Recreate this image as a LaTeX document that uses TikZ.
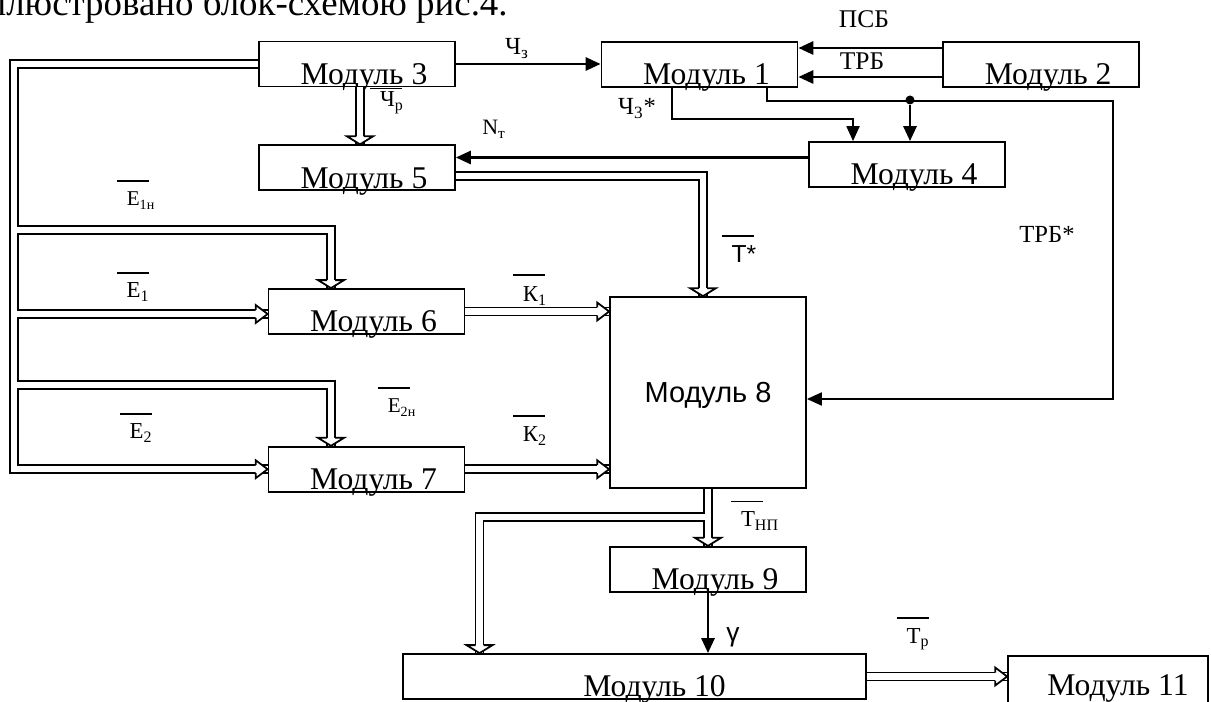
\documentclass[tikz,border=0pt]{standalone}
\usepackage{fontspec}
\setmainfont{Liberation Serif}
\setsansfont{Liberation Sans}
\usetikzlibrary{positioning, arrows.meta, calc}

\newcommand{\vecbar}[2][13.6pt]{\rlap{\hspace{-5.5pt}\rule[#1]{18pt}{1pt}}#2}

\tikzset{
	modbox/.style={rectangle, draw, line width=1pt, minimum width=3.92cm, minimum height=0.9cm, inner sep=0pt},
	modtxt/.style={anchor=base, inner sep=0pt, xshift=0.14cm, yshift=0.06cm, font=\fontsize{18}{20}\selectfont},
	lbl/.style={anchor=base, inner sep=0pt, font=\fontsize{13}{15}\selectfont},
	sarrow/.style={line width=1.6pt, -{Triangle[length=0.3cm, width=0.26cm]}},
	tarrow/.style={line width=1.1pt, -{Triangle[length=0.3cm, width=0.26cm]}},
	dot/.style={circle, fill, inner sep=0pt, minimum size=0.18cm},
	vtip/.pic={\filldraw[fill=white, line width=1pt] (-4,-8) -- (-13,-8) -- (0,0) -- (13,-8) -- (4,-8);},
	htip/.pic={\filldraw[fill=white, line width=1pt] (-12,-4) -- (-12,-9) -- (0,0) -- (-12,9) -- (-12,4);}
}

\begin{document}
\begin{tikzpicture}[x=0.02cm, y=-0.02cm]
	\useasboundingbox (0,0) rectangle (1211,702);
	
	% Testo sopra
	\node[anchor=base east, inner sep=0pt, font=\fontsize{21}{24}\selectfont] (hdr) at (508,16) {ллюстровано блок-схемою рис.4.};
	
	% Moduli
	\node[modbox, label={[modtxt]south:Модуль 3}] (m3) at (357,64) {};
	\node[modbox, label={[modtxt]south:Модуль 1}] (m1) at (699.5,64.5) {};
	\node[modbox, right=2.88cm of m1, label={[modtxt]south:Модуль 2}] (m2) {};
	\node[modbox, below=1.14cm of m3, label={[modtxt]south:Модуль 5}] (m5) {};
	\node[modbox, label={[modtxt]south:Модуль 4}] (m4) at (907,164.5) {};
	\node[modbox, label={[modtxt]south:Модуль 6}] (m6) at (366.5,311.5) {};
	\node[modbox, below=2.22cm of m6, label={[modtxt]south:Модуль 7}] (m7) {};
	\node[modbox, minimum height=3.82cm, text depth=0pt, font=\sffamily\fontsize{16.5}{18}\selectfont] (m8) at (708,392.5) {Модуль 8};
	\node[modbox, below=1.14cm of m8, label={[modtxt]south:Модуль 9}] (m9) {};
	\node[modbox, minimum width=9.26cm, label={[modtxt, xshift=0.26cm]south:Модуль 10}] (m10) at (634.5,676.5) {};
	\node[modbox, minimum width=4cm, minimum height=0.96cm, label={[modtxt, xshift=0.06cm, yshift=0.13cm]south:Модуль 11}] (m11) at (1108,680) {};
	
	% Punti di diramazione
	\coordinate (e1n) at (15,230);
	\coordinate (e1) at (15,314);
	\coordinate (e2n) at (15,385);
	\coordinate (tnp) at (708,517);
	\node[dot] (tap) at (910,100) {};
	
	% Collegamenti doppi
	\foreach \lw/\lc in {0.195cm/black, 0.125cm/white} {
		\draw[line width=\lw, draw=\lc] (m3.west) -- ++(-244,0) |- (m7.west);
		\draw[line width=\lw, draw=\lc] (e1n) -| ([xshift=-0.71cm]m6.north);
		\draw[line width=\lw, draw=\lc] (e1) -- (e1 -| m6.west);
		\draw[line width=\lw, draw=\lc] (e2n) -| ([xshift=-0.71cm]m7.north);
		\draw[line width=\lw, draw=\lc] ([xshift=0.06cm]m3.south) -- ([xshift=0.06cm]m5.north);
		\draw[line width=\lw, draw=\lc] ([yshift=-0.17cm]m5.east) -| ([xshift=-0.1cm]m8.north);
		\draw[line width=\lw, draw=\lc] (m6.east) -- (m6.east -| m8.west);
		\draw[line width=\lw, draw=\lc] (m7.east) -- (m7.east -| m8.west);
		\draw[line width=\lw, draw=\lc] (m8.south) -- (m9.north);
		\draw[line width=\lw, draw=\lc] (tnp) -| ([xshift=-3.1cm]m10.north);
		\draw[line width=\lw, draw=\lc] (m10.east) -- (m10.east -| m11.west);
	}
	\pic at ([xshift=0.06cm]m5.north) {vtip};
	\pic at ([xshift=-0.71cm]m6.north) {vtip};
	\pic at ([xshift=-0.71cm]m7.north) {vtip};
	\pic at ([xshift=-0.1cm]m8.north) {vtip};
	\pic at (m9.north) {vtip};
	\pic at ([xshift=-3.1cm]m10.north) {vtip};
	\pic at (e1 -| m6.west) {htip};
	\pic at (m7.west) {htip};
	\pic at (m6.east -| m8.west) {htip};
	\pic at (m7.east -| m8.west) {htip};
	\pic at (m10.east -| m11.west) {htip};
	
	% Frecce singole
	\draw[sarrow] (m3.east) -- (m3.east -| m1.west);
	\draw[sarrow] ([yshift=0.33cm]m2.west) -- ([yshift=0.33cm]m1.east);
	\draw[sarrow] ([yshift=-0.25cm]m2.west) -- ([yshift=-0.25cm]m1.east);
	\draw[tarrow] ([xshift=-0.55cm]m1.south) -- ++(0,31) -| ([xshift=-1.08cm]m4.north);
	\draw[tarrow] ([xshift=1.35cm]m1.south) -- ++(0,13) -- ++(346,0) |- ([yshift=-0.13cm]m8.east);
	\draw[sarrow] (tap) -- (tap |- m4.north);
	\draw[sarrow] ([yshift=0.14cm]m4.west) -- ([yshift=0.14cm]m4.west -| m5.east);
	\draw[sarrow] (m9.south) -- (m9.south |- m10.north);
	
	% Etichette
	\node[lbl, font=\fontsize{14}{16}\selectfont] (lchz) at (517,55) {Ч\textsubscript{з}};
	\node[lbl] (lchr) at (392,107) {\vecbar[10pt]{Ч\textsubscript{р}}};
	\node[lbl, font=\fontsize{12.5}{14}\selectfont] (lnt) at (494,135) {N\textsubscript{т}};
	\node[lbl, font=\fontsize{14.5}{16}\selectfont] (lpsb) at (864,28) {ПСБ};
	\node[lbl, font=\fontsize{14.5}{16}\selectfont] (ltrb) at (862,70) {ТРБ};
	\node[lbl, font=\fontsize{14}{16}\selectfont] (lch3) at (637,115) {Ч\textsubscript{3}*};
	\node[lbl, font=\fontsize{14}{16}\selectfont] (ltrbs) at (1047,243) {ТРБ*};
	\node[lbl, font=\fontsize{12}{14}\selectfont] (le1n) at (141,206) {\vecbar{Е\textsubscript{1н}}};
	\node[lbl] (le1) at (138,298) {\vecbar{Е\textsubscript{1}}};
	\node[lbl, font=\fontsize{12}{14}\selectfont] (le2n) at (402,413) {\vecbar{Е\textsubscript{2н}}};
	\node[lbl] (le2) at (141,439) {\vecbar{Е\textsubscript{2}}};
	\node[lbl] (lk1) at (535,302) {\vecbar[15pt]{К\textsubscript{1}}};
	\node[lbl] (lk2) at (535,442) {\vecbar[14.5pt]{К\textsubscript{2}}};
	\node[lbl, font=\sffamily\fontsize{14}{16}\selectfont] (lts) at (744,263) {\vecbar[15pt]{Т*}};
	\node[lbl] (ltnp) at (760,527) {\vecbar[14pt]{Т\textsubscript{НП}}};
	\node[lbl, font=\sffamily\fontsize{15}{17}\selectfont] (lgam) at (733,642) {γ};
	\node[lbl] (ltr) at (918,643) {\vecbar{Т\textsubscript{р}}};
\end{tikzpicture}
\end{document}
